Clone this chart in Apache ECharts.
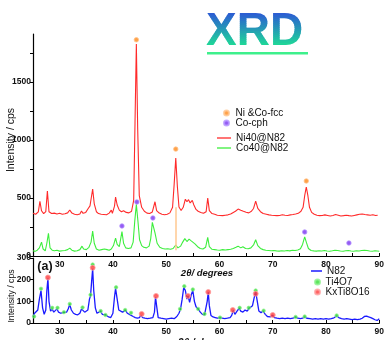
<!DOCTYPE html>
<html>
<head>
<meta charset="utf-8">
<script src="https://cdn.jsdelivr.net/npm/echarts@6/dist/echarts.min.js"></script>
<style>
  html, body { margin: 0; padding: 0; background: #fff; }
  #chart { width: 387px; height: 340px; }
</style>
</head>
<body>
<div id="chart"></div>
<script>
// ---- Upper panel: metal-loaded samples, [2θ (deg), intensity (cps)] ----
const ni40 = [
  [25.0,368],[25.5,360],[26.0,380],[26.3,472],[26.6,390],[27.0,365],[27.4,382],[27.7,560],[28.0,382],
  [28.5,366],[29.0,370],[29.5,362],[30.0,368],[30.5,360],[31.0,365],[31.5,372],[31.9,397],[32.3,370],
  [32.8,360],[33.3,356],[33.8,362],[34.1,388],[34.4,368],[34.9,376],[35.3,405],[35.7,432],[36.0,520],
  [36.2,577],[36.5,450],[36.9,382],[37.3,366],[37.8,360],[38.3,358],[38.8,356],[39.3,370],[39.7,396],
  [39.9,368],[40.3,430],[40.5,508],[40.8,440],[41.2,396],[41.6,382],[42.0,390],[42.5,376],[43.0,372],
  [43.5,386],[43.9,480],[44.15,1150],[44.4,1828],[44.65,1100],[44.95,520],[45.4,420],[45.9,386],
  [46.4,370],[46.9,366],[47.4,380],[47.9,468],[48.2,392],[48.7,370],[49.2,360],[49.7,356],[50.2,360],
  [50.7,372],[51.2,420],[51.5,620],[51.8,845],[52.1,600],[52.4,422],[52.8,392],[53.2,420],[53.6,490],
  [53.9,468],[54.2,486],[54.5,458],[54.9,480],[55.2,440],[55.6,402],[56.0,386],[56.5,376],[57.0,368],
  [57.5,382],[57.8,500],[58.1,392],[58.6,366],[59.1,360],[59.6,352],[60.1,350],[60.6,348],[61.1,352],
  [61.6,355],[62.1,362],[62.6,376],[63.0,386],[63.5,405],[64.0,395],[64.5,386],[65.0,378],[65.5,372],
  [66.0,386],[66.4,410],[66.8,474],[67.2,410],[67.7,382],[68.2,366],[68.8,360],[69.3,355],[69.8,352],
  [70.3,350],[70.8,348],[71.3,350],[71.8,356],[72.3,352],[72.8,350],[73.3,355],[73.8,358],[74.3,362],
  [74.8,368],[75.3,386],[75.7,420],[76.0,520],[76.3,595],[76.6,520],[76.9,420],[77.3,376],[77.8,360],
  [78.3,352],[78.8,348],[79.3,350],[79.8,355],[80.3,350],[80.8,345],[81.3,350],[81.8,358],[82.3,352],
  [82.8,345],[83.3,348],[83.8,352],[84.3,348],[84.8,345],[85.3,350],[85.8,355],[86.3,360],[86.8,362],
  [87.3,358],[87.8,355],[88.3,352],[88.8,356],[89.3,350],[89.7,352],[90.0,348]
];
const co40 = [
  [25.0,45],[25.4,40],[25.8,50],[26.2,70],[26.6,120],[26.9,60],[27.3,45],[27.6,110],[27.9,195],
  [28.2,70],[28.6,50],[29.0,45],[29.5,50],[30.0,42],[30.5,45],[31.0,48],[31.5,55],[31.9,68],[32.3,50],
  [32.8,42],[33.3,45],[33.8,55],[34.2,85],[34.5,60],[35.0,55],[35.5,75],[35.9,120],[36.2,215],
  [36.5,110],[36.9,60],[37.4,50],[37.9,55],[38.4,60],[38.9,55],[39.3,50],[39.7,60],[40.1,90],
  [40.5,155],[40.8,100],[41.2,80],[41.7,210],[42.0,110],[42.4,70],[42.9,65],[43.4,70],[43.8,120],
  [44.1,300],[44.4,445],[44.7,300],[45.0,140],[45.4,90],[45.8,75],[46.3,70],[46.8,85],[47.1,150],
  [47.4,290],[47.6,300],[47.9,200],[48.3,110],[48.8,75],[49.3,65],[49.8,60],[50.3,62],[50.8,58],
  [51.3,65],[51.8,95],[52.2,70],[52.7,85],[53.1,120],[53.5,150],[53.9,125],[54.3,145],[54.7,130],
  [55.0,140],[55.4,105],[55.9,80],[56.4,65],[56.9,60],[57.4,75],[57.8,160],[58.1,80],[58.6,58],
  [59.1,55],[59.6,52],[60.1,50],[60.6,55],[61.1,52],[61.6,55],[62.1,58],[62.6,65],[63.1,75],[63.5,85],
  [64.0,70],[64.4,80],[64.9,65],[65.4,62],[65.9,70],[66.4,95],[66.8,140],[67.2,90],[67.7,65],[68.2,55],
  [68.7,50],[69.2,48],[69.7,45],[70.2,48],[70.7,44],[71.2,42],[71.7,45],[72.2,43],[72.7,47],[73.2,44],
  [73.7,50],[74.2,47],[74.7,52],[75.2,62],[75.6,100],[76.0,165],[76.3,120],[76.7,65],[77.2,48],
  [77.7,44],[78.2,42],[78.7,45],[79.2,43],[79.7,47],[80.2,43],[80.7,41],[81.2,45],[81.7,50],[82.2,47],
  [82.7,43],[83.2,41],[83.7,45],[84.2,48],[84.7,43],[85.2,41],[85.7,45],[86.2,43],[86.7,47],[87.2,50],
  [87.7,47],[88.2,43],[88.7,41],[89.2,45],[89.6,43],[90.0,41]
];
// Phase reflections marked above the curves
const fccPeaks = [[44.4,1865],[51.8,922],[76.3,647]];
const cphPeaks = [[41.7,259],[44.5,466],[47.5,328],[76.0,207],[84.3,112]];
const fccGuide = [[51.8,50],[51.8,420]];

// ---- Lower panel: N82 support, [2θ (deg), intensity (cps)] ----
const n82 = [
  [25.0,30],[25.3,45],[25.6,40],[25.9,60],[26.2,110],[26.5,150],[26.8,70],[27.1,40],[27.4,60],
  [27.6,150],[27.8,205],[28.0,100],[28.3,55],[28.6,65],[28.9,50],[29.2,55],[29.5,65],[29.8,50],
  [30.2,45],[30.6,48],[30.9,45],[31.3,50],[31.6,65],[31.9,85],[32.2,60],[32.6,45],[33.0,40],[33.4,38],
  [33.8,45],[34.1,65],[34.4,70],[34.7,50],[35.0,45],[35.3,60],[35.6,110],[35.8,125],[36.0,190],
  [36.2,250],[36.4,150],[36.7,70],[37.0,45],[37.3,50],[37.7,55],[38.0,40],[38.3,35],[38.6,38],
  [38.9,30],[39.2,28],[39.6,25],[40.0,45],[40.3,120],[40.5,160],[40.8,110],[41.1,60],[41.4,55],
  [41.8,50],[42.1,55],[42.4,58],[42.7,45],[43.1,40],[43.4,45],[43.8,30],[44.2,25],[44.6,22],[45.0,25],
  [45.2,35],[45.4,42],[45.6,25],[46.0,22],[46.5,20],[47.0,22],[47.5,25],[47.8,50],[48.0,120],
  [48.2,80],[48.5,25],[49.0,22],[49.5,20],[50.0,18],[50.5,20],[51.0,22],[51.5,20],[52.0,30],[52.4,45],
  [52.7,65],[53.0,110],[53.3,165],[53.6,150],[53.9,110],[54.1,125],[54.4,95],[54.7,130],[55.0,150],
  [55.3,100],[55.6,75],[56.0,65],[56.4,50],[56.8,40],[57.2,38],[57.5,45],[57.7,100],[57.9,142],
  [58.1,80],[58.4,35],[58.8,28],[59.2,25],[59.6,22],[60.0,24],[60.5,22],[61.0,20],[61.5,22],[62.0,25],
  [62.3,35],[62.6,58],[62.9,40],[63.3,55],[63.7,68],[64.0,55],[64.4,50],[64.8,60],[65.2,55],[65.6,68],
  [65.9,70],[66.2,80],[66.5,115],[66.8,145],[67.1,100],[67.4,55],[67.8,48],[68.2,55],[68.6,40],
  [69.0,30],[69.5,28],[70.0,35],[70.3,25],[70.8,22],[71.3,20],[71.8,22],[72.3,20],[72.8,22],[73.3,20],
  [73.8,22],[74.3,28],[74.7,22],[75.2,20],[75.6,22],[76.0,28],[76.4,22],[77.0,20],[77.5,18],[78.0,20],
  [78.5,18],[79.0,20],[79.5,18],[80.0,20],[80.5,18],[81.0,20],[81.5,24],[82.0,32],[82.4,25],[82.9,20],
  [83.4,18],[83.9,20],[84.4,18],[84.9,16],[85.4,18],[85.9,16],[86.4,18],[86.8,22],[87.2,30],[87.6,32],
  [88.0,28],[88.4,25],[88.8,20],[89.2,15],[89.6,12],[90.0,20]
];
const ti4o7Peaks = [
  [25.2,30],[26.5,158],[28.6,70],[29.6,70],[30.8,50],[31.9,88],[34.3,72],[35.8,130],[36.2,270],
  [37.7,55],[38.6,37],[40.6,165],[42.3,60],[43.4,47],[52.6,65],[53.4,170],[55.0,155],[56.0,65],
  [57.2,42],[60.1,25],[63.8,70],[65.5,70],[66.8,150],[68.3,57],[74.3,28],[76.0,30],[82.0,35]
];
const kxti8o16Peaks = [
  [27.8,210],[36.2,255],[45.4,42],[48.1,125],[54.1,125],[57.9,143],[62.5,60],[66.8,135],[70.0,37]
];

// ---- Axis ticks and labels ----
const angleLabels = [30, 40, 50, 60, 70, 80, 90];
const angleTicks = [30, 35, 40, 45, 50, 55, 60, 65, 70, 75, 80, 85, 90];
const upperLabels = [0, 500, 1000, 1500];
const upperTicks = [0, 250, 500, 750, 1000, 1250, 1500, 1750];
const lowerLabels = [0, 100, 200, 300];

const FONT = '"Liberation Sans", Arial, sans-serif';
const tickFont = { fontSize: 8.5, fontWeight: 'bold', color: '#111', fontFamily: FONT, formatter: v => String(v) };

function angleAxis(gridIndex) {
  return {
    type: 'value', gridIndex: gridIndex, min: 25, max: 90,
    axisLine: { show: true, onZero: false, lineStyle: { color: '#000', width: 1.2 } },
    axisTick: { show: true, inside: true, length: 3, customValues: angleTicks, lineStyle: { color: '#000' } },
    axisLabel: { customValues: angleLabels, margin: 4, ...tickFont },
    splitLine: { show: false }
  };
}

const legendText = { fontSize: 10, color: '#111', fontFamily: FONT };

const chart = echarts.init(document.getElementById('chart'), null, { renderer: 'canvas' });

chart.setOption({
  backgroundColor: '#fff',
  animation: false,
  grid: [
    { left: 33, top: 34, width: 349, height: 222 },
    { left: 33, top: 258, width: 349, height: 65 }
  ],
  xAxis: [angleAxis(0), angleAxis(1)],
  yAxis: [
    {
      type: 'value', gridIndex: 0, min: 0, max: 1915,
      axisLine: { show: true, lineStyle: { color: '#000', width: 1.2 } },
      axisTick: { show: true, length: 3, customValues: upperTicks, lineStyle: { color: '#000' } },
      axisLabel: { customValues: upperLabels, margin: 2, ...tickFont },
      splitLine: { show: false }
    },
    {
      type: 'value', gridIndex: 1, min: 0, max: 300,
      axisLine: { show: true, lineStyle: { color: '#000', width: 1.2 } },
      axisTick: { show: true, length: 3, customValues: lowerLabels, lineStyle: { color: '#000' } },
      axisLabel: { customValues: lowerLabels, margin: 2, ...tickFont },
      splitLine: { show: false }
    }
  ],
  legend: [
    {
      data: ['Ni &Co-fcc', 'Co-cph'], orient: 'vertical', left: 223, top: 108, padding: 0,
      icon: 'circle', itemWidth: 8, itemHeight: 5, itemGap: 0, selectedMode: false,
      textStyle: legendText
    },
    {
      data: ['Ni40@N82', 'Co40@N82'], orient: 'vertical', left: 217, top: 133, padding: 0,
      icon: 'rect', itemWidth: 14, itemHeight: 1.3, itemGap: 0, selectedMode: false,
      textStyle: { ...legendText, height: 12 }
    },
    {
      data: ['N82'], orient: 'vertical', left: 311, top: 266, padding: 0,
      icon: 'rect', itemWidth: 11, itemHeight: 1.5, itemGap: 0, selectedMode: false,
      textStyle: { ...legendText, height: 12 }
    },
    {
      data: ['Ti4O7', 'KxTi8O16'], orient: 'vertical', left: 314, top: 277, padding: 0,
      icon: 'circle', itemWidth: 6, itemHeight: 5, itemGap: 0, selectedMode: false,
      textStyle: legendText
    }
  ],
  series: [
    {
      name: 'Ni40@N82', type: 'line', xAxisIndex: 0, yAxisIndex: 0, data: ni40,
      symbol: 'none', z: 3, color: '#ff2a2a', lineStyle: { color: '#ff2a2a', width: 1.1 }
    },
    {
      name: 'Co40@N82', type: 'line', xAxisIndex: 0, yAxisIndex: 0, data: co40,
      symbol: 'none', z: 3, color: '#3dee3d', lineStyle: { color: '#3dee3d', width: 1.1 },
      markLine: {
        silent: true, symbol: 'none', label: { show: false },
        lineStyle: { color: '#ffc890', width: 1.5, type: 'solid' },
        data: [[{ coord: fccGuide[0] }, { coord: fccGuide[1] }]]
      }
    },
    {
      name: 'Ni &Co-fcc', type: 'scatter', xAxisIndex: 0, yAxisIndex: 0, data: fccPeaks,
      symbolSize: 4.5, z: 4, color: '#ff8a1a',
      itemStyle: { color: '#ff8a1a', borderColor: '#ffc590', borderWidth: 1 }
    },
    {
      name: 'Co-cph', type: 'scatter', xAxisIndex: 0, yAxisIndex: 0, data: cphPeaks,
      symbolSize: 4.5, z: 4, color: '#7a32f0',
      itemStyle: { color: '#7a32f0', borderColor: '#b596ff', borderWidth: 1 }
    },
    {
      name: 'N82', type: 'line', xAxisIndex: 1, yAxisIndex: 1, data: n82,
      symbol: 'none', z: 3, color: '#1a1aff', lineStyle: { color: '#1a1aff', width: 1.3 }
    },
    {
      name: 'Ti4O7', type: 'scatter', xAxisIndex: 1, yAxisIndex: 1, data: ti4o7Peaks,
      symbolSize: 3.5, z: 4, color: '#33dd33',
      itemStyle: { color: '#33dd33', borderColor: '#8ff08f', borderWidth: 0.8 }
    },
    {
      name: 'KxTi8O16', type: 'scatter', xAxisIndex: 1, yAxisIndex: 1, data: kxti8o16Peaks,
      symbolSize: 5, z: 5, color: '#ff3b3b',
      itemStyle: { color: '#ff3b3b', borderColor: '#ffa0a0', borderWidth: 1 }
    }
  ],
  graphic: [
    { type: 'rect', shape: { x: 207, y: 52, width: 101, height: 2.5 }, style: { fill: '#3ef08c' }, z: 10 },
    {
      type: 'text', x: 11, y: 140, rotation: Math.PI / 2, z: 10,
      style: { text: 'Intensity / cps', fontSize: 10.5, fill: '#111', fontFamily: FONT, align: 'center', verticalAlign: 'middle' }
    },
    {
      type: 'text', x: 12, y: 296, rotation: Math.PI / 2, z: 10,
      style: { text: 'Intensity / cps', fontSize: 8.7, fill: '#111', fontFamily: FONT, align: 'center', verticalAlign: 'middle' }
    },
    {
      type: 'text', x: 207, y: 273, z: 10,
      style: { text: '2θ/ degrees', fontSize: 9.5, fontStyle: 'italic', fontWeight: 'bold', fill: '#111', fontFamily: FONT, align: 'center', verticalAlign: 'middle' }
    },
    {
      type: 'text', x: 207, y: 343, z: 10,
      style: { text: '2θ / degrees', fontSize: 10, fontStyle: 'italic', fontWeight: 'bold', fill: '#111', fontFamily: FONT, align: 'center', verticalAlign: 'middle' }
    },
    {
      type: 'text', x: 45, y: 267, z: 10,
      style: { text: '(a)', fontSize: 12.5, fontWeight: 'bold', fill: '#111', fontFamily: FONT, align: 'center', verticalAlign: 'middle' }
    }
  ]
});

// "XRD" heading with a vertical blue-to-green fill: the word is drawn in thin
// horizontal strips, each clipped to its band and filled with the blended colour.
(function drawHeading() {
  const zr = chart.getZr();
  const top = 13, bottom = 49, strips = 18;
  const c0 = [44, 90, 212], c1 = [29, 232, 144];
  const h = (bottom - top) / strips;
  for (let i = 0; i < strips; i++) {
    const t = (i + 0.5) / strips;
    const rgb = c0.map((v, k) => Math.round(v + (c1[k] - v) * t));
    const word = new echarts.graphic.Text({
      z: 100,
      style: {
        x: 206, y: 32, text: 'XRD', fontSize: 46, fontWeight: 'bold', fontFamily: FONT,
        verticalAlign: 'middle', align: 'left', fill: 'rgb(' + rgb.join(',') + ')'
      }
    });
    word.setClipPath(new echarts.graphic.Rect({
      shape: { x: 190, y: top + i * h - (i === 0 ? 10 : 0), width: 140, height: h + 0.6 + (i === 0 ? 10 : 0) + (i === strips - 1 ? 10 : 0) }
    }));
    zr.add(word);
  }
})();
</script>
</body>
</html>
